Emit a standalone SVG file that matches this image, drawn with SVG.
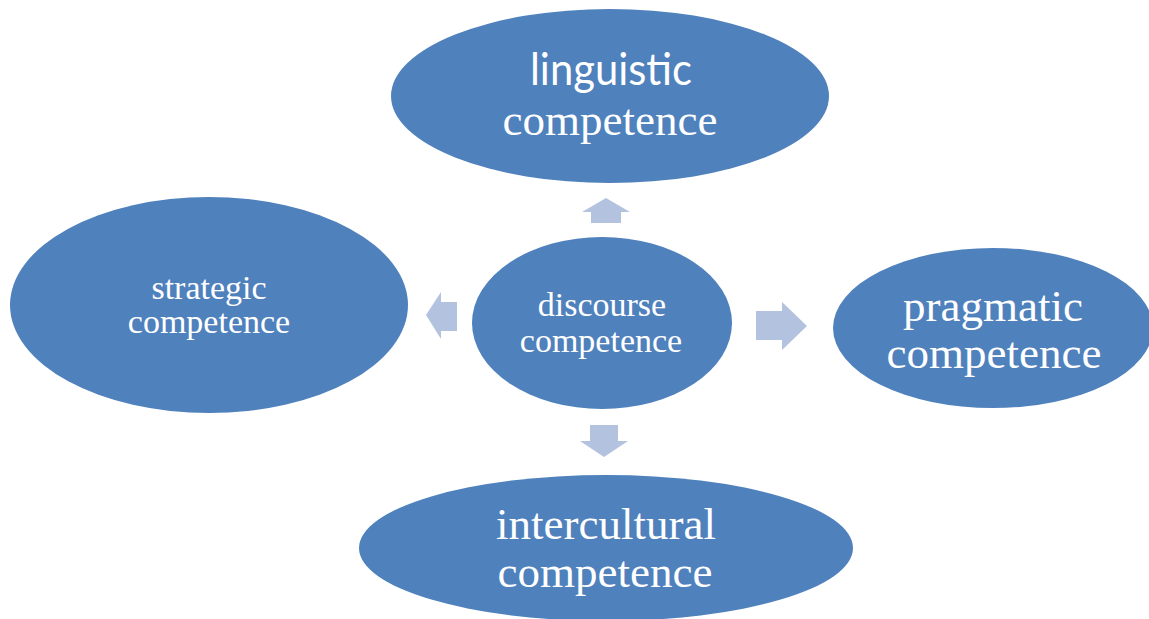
<svg xmlns="http://www.w3.org/2000/svg" width="1149" height="619" viewBox="0 0 1149 619">
<style>
.node{fill:#4F81BD;}
.arr{fill:#B3C2DE;}
.t{fill:#FFFFFF;font-family:"Liberation Serif","Times New Roman",serif;text-anchor:middle;}
.s{fill:#FFFFFF;font-family:Lato,"Liberation Sans",sans-serif;text-anchor:middle;}
</style>
<rect width="1149" height="619" fill="#FFFFFF"/>
<g id="connectors">
<polygon class="arr" points="591,223 621,223 621,212 630,212 606,198 582,212 591,212"/>
<polygon class="arr" points="457,302 441,302 441,292 426,315 441,339 441,331 457,331"/>
<polygon class="arr" points="756,311 782,311 782,302 807,326 782,350 782,340 756,340"/>
<polygon class="arr" points="590,425 618,425 618,441 628,441 604,457 580,441 590,441"/>
</g>
<g id="linguistic">
<ellipse class="node" cx="610" cy="96" rx="219" ry="87"/>
<text class="s" x="611" y="85" font-size="44" textLength="162" lengthAdjust="spacingAndGlyphs">linguistic</text>
<text class="t" x="610" y="135" font-size="45">competence</text>
</g>
<g id="strategic">
<ellipse class="node" cx="209" cy="305" rx="199" ry="108"/>
<text class="t" x="209" y="299" font-size="34">strategic</text>
<text class="t" x="209" y="333" font-size="34">competence</text>
</g>
<g id="discourse">
<ellipse class="node" cx="602" cy="323" rx="130" ry="86"/>
<text class="t" x="602" y="316" font-size="34">discourse</text>
<text class="t" x="601" y="352" font-size="34">competence</text>
</g>
<g id="pragmatic">
<ellipse class="node" cx="993" cy="328" rx="160" ry="80"/>
<text class="t" x="993" y="321" font-size="45">pragmatic</text>
<text class="t" x="994" y="368" font-size="45">competence</text>
</g>
<g id="intercultural">
<ellipse class="node" cx="606" cy="548" rx="247" ry="73"/>
<text class="t" x="606" y="539" font-size="45">intercultural</text>
<text class="t" x="605" y="587" font-size="45">competence</text>
</g>
</svg>
